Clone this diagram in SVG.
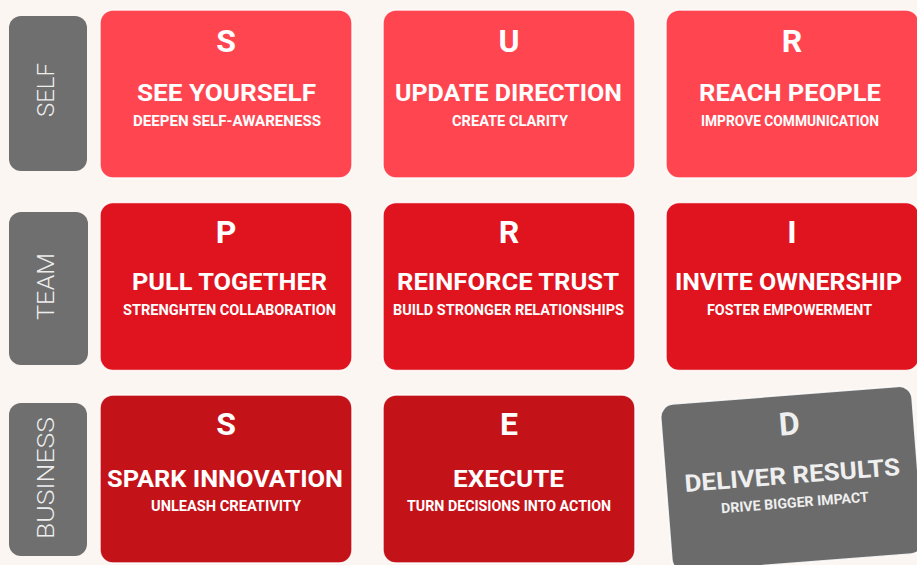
<svg xmlns="http://www.w3.org/2000/svg" width="917" height="565" viewBox="0 0 917 565">
<style>
.bg{fill:#FCF6F2}
.side{fill:#6F6F6F}
.sidet{fill:#EDEDED;font-family:Roboto,"Liberation Sans",sans-serif;font-weight:300;font-size:24px;text-anchor:middle}
.card{stroke:#FFFFFF;stroke-opacity:0.85;stroke-width:1.5}
.r1{fill:#FF4650}
.r2{fill:#E0141E}
.r3{fill:#C41219}
.gray{fill:#6B6B6B}
.t{fill:#FFFFFF;font-family:Roboto,"Liberation Sans",sans-serif;font-weight:700;text-anchor:middle}
.L{font-size:32px}
.T{font-size:24px}
.S{font-size:14px}
.dt{fill:#EFEFEF}
</style>
<rect class="bg" x="0" y="0" width="917" height="565"/>

<g id="side-self">
<rect class="side" x="9" y="16" width="78" height="155" rx="12"/>
<text class="sidet" transform="translate(53.5,90) rotate(-90)" textLength="54" lengthAdjust="spacingAndGlyphs">SELF</text>
</g>
<g id="side-team">
<rect class="side" x="9" y="212" width="79" height="153" rx="12"/>
<text class="sidet" transform="translate(53.5,286.5) rotate(-90)" textLength="67" lengthAdjust="spacingAndGlyphs">TEAM</text>
</g>
<g id="side-business">
<rect class="side" x="9" y="403" width="78" height="153" rx="12"/>
<text class="sidet" transform="translate(53.5,478) rotate(-90)" textLength="122" lengthAdjust="spacingAndGlyphs">BUSINESS</text>
</g>

<g id="card-s1">
<rect class="card r1" x="100" y="10" width="252" height="168" rx="13"/>
<text class="t L" x="226" y="52">S</text>
<text class="t T" x="226.5" y="101" textLength="179" lengthAdjust="spacingAndGlyphs">SEE YOURSELF</text>
<text class="t S" x="227" y="126" textLength="188" lengthAdjust="spacingAndGlyphs">DEEPEN SELF-AWARENESS</text>
</g>
<g id="card-u">
<rect class="card r1" x="383" y="10" width="252" height="168" rx="13"/>
<text class="t L" x="509" y="52">U</text>
<text class="t T" x="508.5" y="101" textLength="227" lengthAdjust="spacingAndGlyphs">UPDATE DIRECTION</text>
<text class="t S" x="510" y="126" textLength="116" lengthAdjust="spacingAndGlyphs">CREATE CLARITY</text>
</g>
<g id="card-r1">
<rect class="card r1" x="666" y="10" width="253" height="168" rx="13"/>
<text class="t L" x="792" y="52">R</text>
<text class="t T" x="790" y="101" textLength="182" lengthAdjust="spacingAndGlyphs">REACH PEOPLE</text>
<text class="t S" x="790" y="126" textLength="178" lengthAdjust="spacingAndGlyphs">IMPROVE COMMUNICATION</text>
</g>

<g id="card-p">
<rect class="card r2" x="100" y="202.5" width="252" height="168" rx="13"/>
<text class="t L" x="226" y="243">P</text>
<text class="t T" x="229.5" y="290" textLength="195" lengthAdjust="spacingAndGlyphs">PULL TOGETHER</text>
<text class="t S" x="229.5" y="314.5" textLength="213" lengthAdjust="spacingAndGlyphs">STRENGHTEN COLLABORATION</text>
</g>
<g id="card-r2">
<rect class="card r2" x="383" y="202.5" width="252" height="168" rx="13"/>
<text class="t L" x="509" y="243">R</text>
<text class="t T" x="508" y="290" textLength="222" lengthAdjust="spacingAndGlyphs">REINFORCE TRUST</text>
<text class="t S" x="508.5" y="314.5" textLength="231" lengthAdjust="spacingAndGlyphs">BUILD STRONGER RELATIONSHIPS</text>
</g>
<g id="card-i">
<rect class="card r2" x="666" y="202.5" width="253" height="168" rx="13"/>
<text class="t L" x="792" y="243">I</text>
<text class="t T" x="788.5" y="290" textLength="227" lengthAdjust="spacingAndGlyphs">INVITE OWNERSHIP</text>
<text class="t S" x="789.5" y="314.5" textLength="165" lengthAdjust="spacingAndGlyphs">FOSTER EMPOWERMENT</text>
</g>

<g id="card-s3">
<rect class="card r3" x="100" y="395" width="252" height="168" rx="13"/>
<text class="t L" x="226" y="435">S</text>
<text class="t T" x="225" y="487" textLength="236" lengthAdjust="spacingAndGlyphs">SPARK INNOVATION</text>
<text class="t S" x="226" y="511" textLength="150" lengthAdjust="spacingAndGlyphs">UNLEASH CREATIVITY</text>
</g>
<g id="card-e">
<rect class="card r3" x="383" y="395" width="252" height="168" rx="13"/>
<text class="t L" x="509" y="435">E</text>
<text class="t T" x="508.5" y="487" textLength="111" lengthAdjust="spacingAndGlyphs">EXECUTE</text>
<text class="t S" x="509" y="511" textLength="204" lengthAdjust="spacingAndGlyphs">TURN DECISIONS INTO ACTION</text>
</g>
<g id="card-d" transform="rotate(-4.5 792 479)">
<rect class="card gray" x="666" y="395" width="252" height="168" rx="13" stroke-width="2"/>
<text class="t L dt" x="793.5" y="435">D</text>
<text class="t T dt" x="792.5" y="483.5" textLength="216" lengthAdjust="spacingAndGlyphs">DELIVER RESULTS</text>
<text class="t S dt" x="793" y="507.5" textLength="148" lengthAdjust="spacingAndGlyphs">DRIVE BIGGER IMPACT</text>
</g>
<g id="connectors"/>
</svg>
